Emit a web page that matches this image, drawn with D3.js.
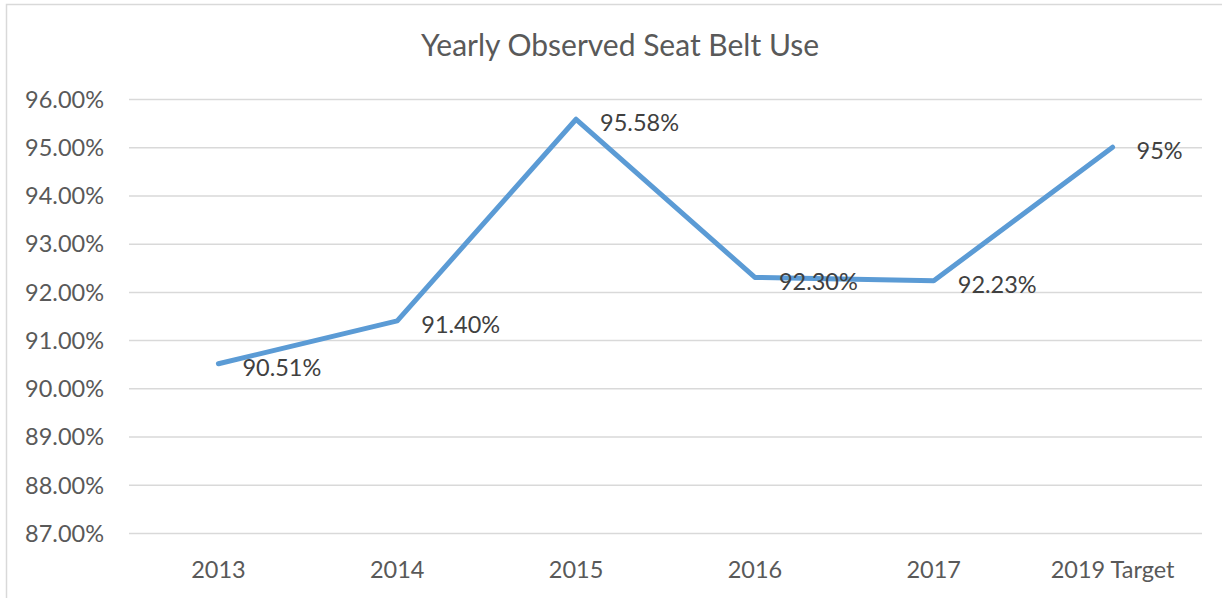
<!DOCTYPE html>
<html>
<head>
<meta charset="utf-8">
<script src="https://cdn.jsdelivr.net/npm/d3@7/dist/d3.min.js"></script>
<style>
  html, body { margin: 0; padding: 0; background: #fff; }
  svg { display: block; }
  text { font-family: Lato, "Open Sans", sans-serif; }
</style>
</head>
<body>
<svg id="chart" width="1222" height="598"></svg>
<script>
const categories = ["2013", "2014", "2015", "2016", "2017", "2019 Target"];
const values = [90.51, 91.40, 95.58, 92.30, 92.23, 95];
const valueLabels = ["90.51%", "91.40%", "95.58%", "92.30%", "92.23%", "95%"];
const yTicks = [87, 88, 89, 90, 91, 92, 93, 94, 95, 96];
const title = "Yearly Observed Seat Belt Use";

const svg = d3.select("#chart");
const plot = { left: 129, right: 1202, top: 99, bottom: 533 };

// chart border
svg.append("rect")
  .attr("x", 6.5).attr("y", 4.5)
  .attr("width", 1240).attr("height", 620)
  .attr("fill", "none").attr("stroke", "#d9d9d9").attr("stroke-width", 1.5);

const x = d3.scaleBand().domain(categories).range([plot.left, plot.right]).padding(0);
const y = d3.scaleLinear().domain([87, 96]).range([plot.bottom, plot.top]);

// gridlines via axis
const yAxis = d3.axisLeft(y).tickValues(yTicks)
  .tickSize(-(plot.right - plot.left))
  .tickPadding(25)
  .tickFormat(d => d.toFixed(2) + "%");
const gy = svg.append("g").attr("transform", `translate(${plot.left},0)`).call(yAxis);
gy.select(".domain").remove();
gy.selectAll(".tick line").attr("stroke", "#d9d9d9").attr("stroke-width", 1.5);
gy.selectAll(".tick text")
  .attr("fill", "#595959").attr("font-size", 23.5).attr("dy", "0.35em");

const xAxis = d3.axisBottom(x).tickSize(0).tickPadding(0);
const gx = svg.append("g").attr("transform", `translate(0,${plot.bottom})`).call(xAxis);
gx.select(".domain").remove();
gx.selectAll(".tick text")
  .attr("fill", "#595959").attr("font-size", 23.5).attr("y", 45).attr("dy", 0);

// title
svg.append("text")
  .attr("x", 620).attr("y", 56)
  .attr("text-anchor", "middle")
  .attr("fill", "#595959")
  .attr("font-size", 30)
  .text(title);

// line
const data = categories.map((c, i) => ({ c, v: values[i], label: valueLabels[i] }));
const line = d3.line().x(d => x(d.c) + x.bandwidth() / 2).y(d => y(d.v));
svg.append("path")
  .datum(data)
  .attr("d", line)
  .attr("fill", "none")
  .attr("stroke", "#5b9bd5")
  .attr("stroke-width", 5)
  .attr("stroke-linejoin", "round")
  .attr("stroke-linecap", "round");

// data labels (right of point)
svg.append("g").selectAll("text")
  .data(data).join("text")
  .attr("x", d => x(d.c) + x.bandwidth() / 2 + 24)
  .attr("y", d => y(d.v) + 4)
  .attr("dy", "0.35em")
  .attr("fill", "#404040")
  .attr("font-size", 23.5)
  .text(d => d.label);
</script>
</body>
</html>
